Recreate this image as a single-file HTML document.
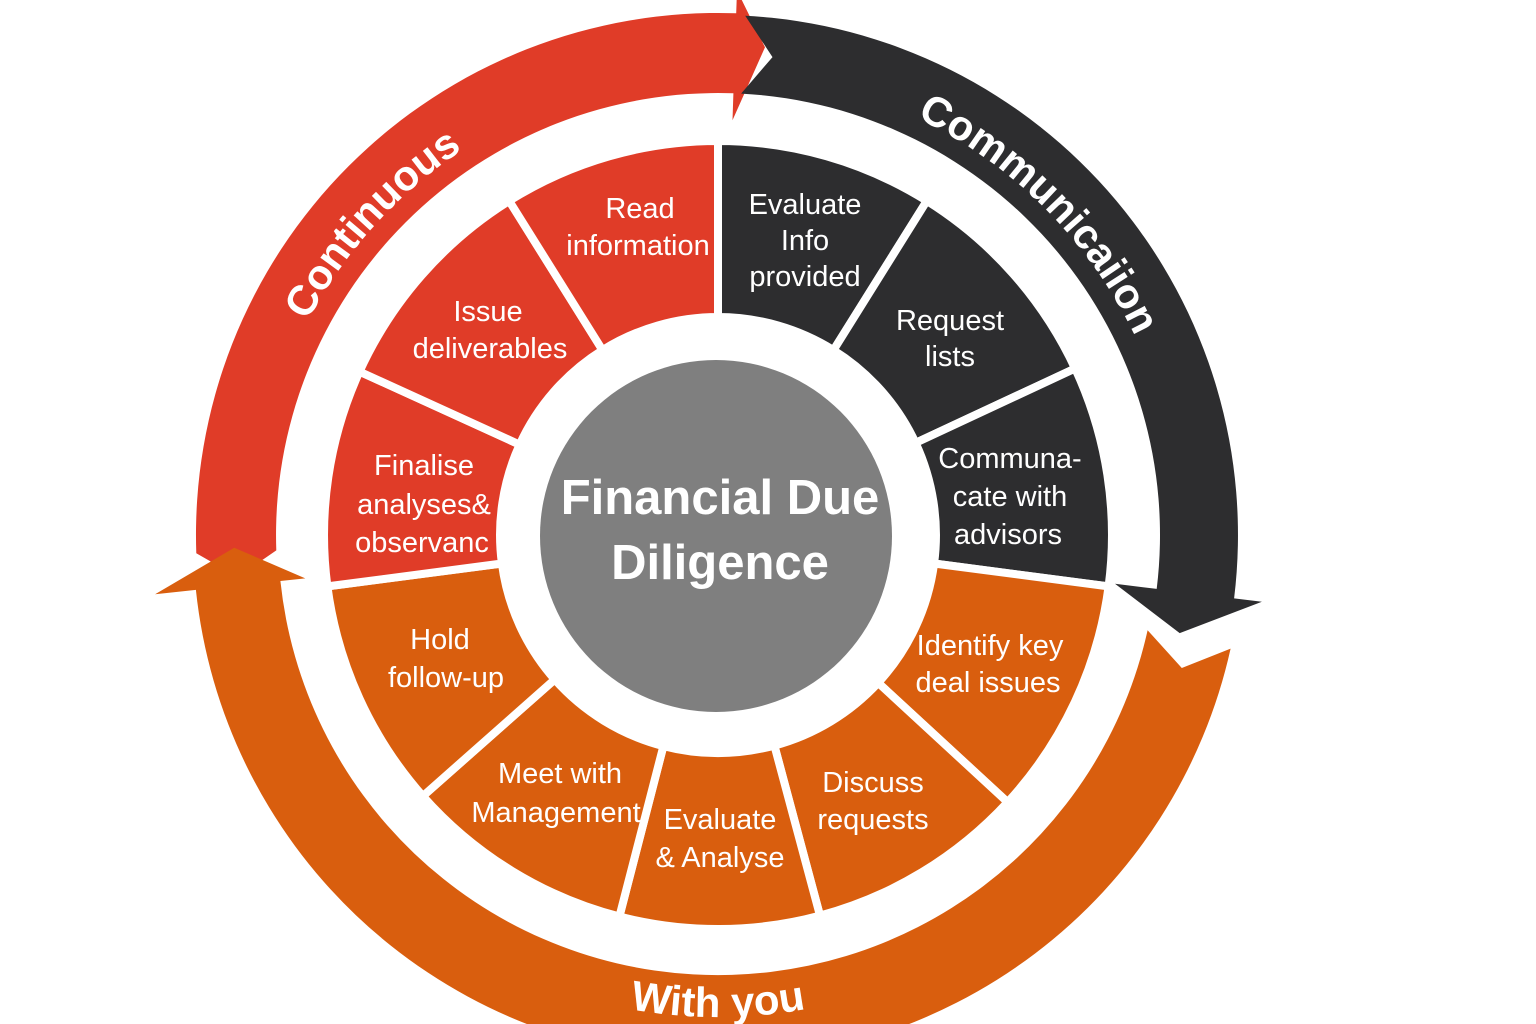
<!DOCTYPE html>
<html><head><meta charset="utf-8"><style>
html,body{margin:0;padding:0;background:#fff;}
svg{display:block;}
.s{font-family:"Liberation Sans",sans-serif;font-size:29px;fill:#fff;text-anchor:middle;}
.a{font-family:"Liberation Sans",sans-serif;font-size:42px;font-weight:bold;fill:#fff;}
</style></head><body>
<svg id="svg" width="1536" height="1024" viewBox="0 0 1536 1024">
<defs>
<path id="pc" d="M289.1,361.6 A462,462 0 0 1 501.1,127.1"/>
<path id="pm" d="M837.6,88.7 A462,462 0 0 1 1164.2,415.4"/>
<path id="pw" d="M553.2,988.0 A482,482 0 0 0 882.8,988.0"/>
</defs>
<g id="shapes"></g>
<circle cx="716" cy="536" r="176" fill="#7f7f7f"/>
<text x="720" y="514" font-family="Liberation Sans,sans-serif" font-size="49" font-weight="bold" fill="#fff" text-anchor="middle">Financial Due</text>
<text x="720" y="579" font-family="Liberation Sans,sans-serif" font-size="49" font-weight="bold" fill="#fff" text-anchor="middle">Diligence</text>

<text class="s"><tspan x="640" y="218">Read</tspan><tspan x="638" y="255">information</tspan></text>
<text class="s"><tspan x="805" y="214">Evaluate</tspan><tspan x="805" y="250">Info</tspan><tspan x="805" y="286">provided</tspan></text>
<text class="s"><tspan x="950" y="330">Request</tspan><tspan x="950" y="366">lists</tspan></text>
<text class="s"><tspan x="1010" y="468">Communa-</tspan><tspan x="1010" y="506">cate with</tspan><tspan x="1008" y="544">advisors</tspan></text>
<text class="s"><tspan x="990" y="655">Identify key</tspan><tspan x="988" y="692">deal issues</tspan></text>
<text class="s"><tspan x="873" y="792">Discuss</tspan><tspan x="873" y="829">requests</tspan></text>
<text class="s"><tspan x="720" y="829">Evaluate</tspan><tspan x="720" y="867">&amp; Analyse</tspan></text>
<text class="s"><tspan x="560" y="783">Meet with</tspan><tspan x="556" y="822">Management</tspan></text>
<text class="s"><tspan x="440" y="649">Hold</tspan><tspan x="446" y="687">follow-up</tspan></text>
<text class="s"><tspan x="424" y="475">Finalise</tspan><tspan x="424" y="514">analyses&amp;</tspan><tspan x="422" y="552">observanc</tspan></text>
<text class="s"><tspan x="488" y="321">Issue</tspan><tspan x="490" y="358">deliverables</tspan></text>

<text class="a"><textPath href="#pc" startOffset="50%" text-anchor="middle">Continuous</textPath></text>
<text class="a"><textPath href="#pm" startOffset="50%" text-anchor="middle">Communicaiion</textPath></text>
<text class="a"><textPath href="#pw" startOffset="50%" text-anchor="middle">With you</textPath></text>
</svg>
<script>
var cx=718,cy=535;
function P(r,a){a*=Math.PI/180;return (cx+r*Math.cos(a)).toFixed(1)+','+(cy+r*Math.sin(a)).toFixed(1);}
function arrow(r1,r2,a0,a1,notch,h1,h2,ta,tr,col){
 var m=(r1+r2)/2;
 return '<path fill="'+col+'" d="M'+P(r2,a0)+' A'+r2+','+r2+' 0 0 1 '+P(r2,a1)+' L'+P(h2,a1)+' L'+P(tr,ta)+' L'+P(h1,a1)+' L'+P(r1,a1)+' A'+r1+','+r1+' 0 0 0 '+P(r1,a0)+' L'+P(m,a0+notch)+' Z"/>';
}
function wedge(a0,a1,col){
 var ri=218,ro=394,lg=(a1-a0)>180?1:0;
 return '<path fill="'+col+'" stroke="#fff" stroke-width="8" stroke-linejoin="miter" d="M'+P(ri,a0)+' L'+P(ro,a0)+' A'+ro+','+ro+' 0 '+lg+' 1 '+P(ro,a1)+' L'+P(ri,a1)+' A'+ri+','+ri+' 0 0 0 '+P(ri,a0)+' Z"/>';
}
var R='#e03c28',D='#2d2d2f',O='#d95e0e',h='';
h+=arrow(442,522,178,272,-3,415,545,275.5,490,R);
h+=arrow(442,520,273,367,3.5,400,548,372,472,D);
h+=arrow(440,525,372.5,534,3.5,415,566,538.5,484,O);
var segs=[[270,302,D],[302,335,D],[335,367.5,D],[367.5,402.7,O],[402.7,435,O],[435,464.5,O],[464.5,498.5,O],[498.5,532.5,O],[532.5,564.5,R],[564.5,598,R],[598,630,R]];
segs.forEach(function(s){h+=wedge(s[0],s[1],s[2]);});
document.getElementById('shapes').innerHTML=h;
</script>
</body></html>
